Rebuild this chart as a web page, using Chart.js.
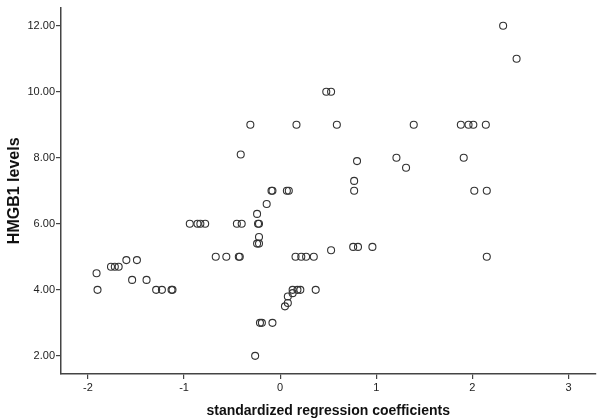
<!DOCTYPE html>
<html>
<head>
<meta charset="utf-8">
<script src="https://cdn.jsdelivr.net/npm/chart.js@4"></script>
<style>
  html, body { margin: 0; padding: 0; background: #fff; }
  #wrap { width: 600px; height: 420px; }
</style>
</head>
<body>
<div id="wrap"><canvas id="scatterChart" width="600" height="420"></canvas></div>
<script>
// standardized regression coefficients (x) vs HMGB1 levels (y)
const coefX = [
  -1.91, -1.90, -1.76, -1.72, -1.68, -1.60, -1.49, -1.54, -1.39, -1.29,
  -1.23, -1.13, -1.12, -0.94, -0.86, -0.83, -0.78, -0.67, -0.56, -0.43,
  -0.42, -0.45, -0.40, -0.24, -0.23, -0.22, -0.22, -0.24, -0.22, -0.14,
  -0.31, -0.41, -0.09, -0.08, 0.07, 0.09, 0.17, 0.48, 0.53, 0.59,
  1.39, 0.80, 1.21, 1.31, 0.77, 0.77, 0.16, 0.22, 0.27, 0.35,
  0.53, 0.76, 0.81, 0.96, 0.13, 0.18, 0.21, 0.13, 0.08, 0.08,
  0.05, 0.37, -0.21, -0.19, -0.08, -0.26, 2.32, 2.46, 1.88, 1.96,
  2.01, 2.14, 1.91, 2.02, 2.15, 2.15
];
const hmgb1 = [
  4.5, 4.0, 4.7, 4.7, 4.7, 4.9, 4.9, 4.3, 4.3, 4.0,
  4.0, 4.0, 4.0, 6.0, 6.0, 6.0, 6.0, 5.0, 5.0, 5.0,
  5.0, 6.0, 6.0, 6.3, 6.0, 6.0, 5.6, 5.4, 5.4, 6.6,
  9.0, 8.1, 7.0, 7.0, 7.0, 7.0, 9.0, 10.0, 10.0, 9.0,
  9.0, 7.9, 8.0, 7.7, 7.3, 7.0, 5.0, 5.0, 5.0, 5.0,
  5.2, 5.3, 5.3, 5.3, 4.0, 4.0, 4.0, 3.9, 3.8, 3.6,
  3.5, 4.0, 3.0, 3.0, 3.0, 2.0, 12.0, 11.0, 9.0, 9.0,
  9.0, 9.0, 8.0, 7.0, 7.0, 5.0
];
const xTicks = [-2, -1, 0, 1, 2, 3];
const yTicks = [2, 4, 6, 8, 10, 12];

const points = coefX.map((x, i) => ({ x: x, y: hmgb1[i] }));

const axisColor = '#444';
const tickFont = { family: 'Liberation Sans, Arial, sans-serif', size: 11 };
const titleFont = { family: 'Liberation Sans, Arial, sans-serif', size: 14, weight: 'bold' };

new Chart(document.getElementById('scatterChart'), {
  type: 'scatter',
  data: {
    datasets: [{
      data: points,
      pointRadius: 3.5,
      pointHoverRadius: 3.5,
      pointBorderWidth: 1.1,
      borderColor: '#333',
      backgroundColor: 'rgba(0,0,0,0)'
    }]
  },
  options: {
    responsive: false,
    animation: false,
    layout: { padding: { top: 4, right: 2, left: 0, bottom: 0 } },
    plugins: {
      legend: { display: false },
      tooltip: { enabled: false }
    },
    scales: {
      x: {
        type: 'linear',
        min: -2.28,
        max: 3.28,
        afterBuildTicks: axis => { axis.ticks = xTicks.map(v => ({ value: v })); },
        afterFit: axis => { axis.height = 46; },
        border: { display: true, color: axisColor, width: 1.5 },
        grid: { drawOnChartArea: false, drawTicks: true, tickLength: 5, color: axisColor, lineWidth: 1.2 },
        ticks: { color: '#222', font: tickFont, padding: 2, maxRotation: 0 },
        title: { display: true, text: 'standardized regression coefficients', color: '#111', font: titleFont, padding: { top: 4, bottom: 0 } }
      },
      y: {
        type: 'linear',
        min: 1.45,
        max: 12.55,
        afterBuildTicks: axis => { axis.ticks = yTicks.map(v => ({ value: v })); },
        afterFit: axis => { axis.width = 61; },
        border: { display: true, color: axisColor, width: 1.5 },
        grid: { drawOnChartArea: false, drawTicks: true, tickLength: 5, color: axisColor, lineWidth: 1.2 },
        ticks: { color: '#222', font: tickFont, padding: 1, callback: v => Number(v).toFixed(2) },
        title: { display: true, text: 'HMGB1 levels', color: '#111', font: { family: 'Liberation Sans, Arial, sans-serif', size: 16, weight: 'bold' }, padding: { top: 5, bottom: 0 } }
      }
    }
  }
});
</script>
</body>
</html>
